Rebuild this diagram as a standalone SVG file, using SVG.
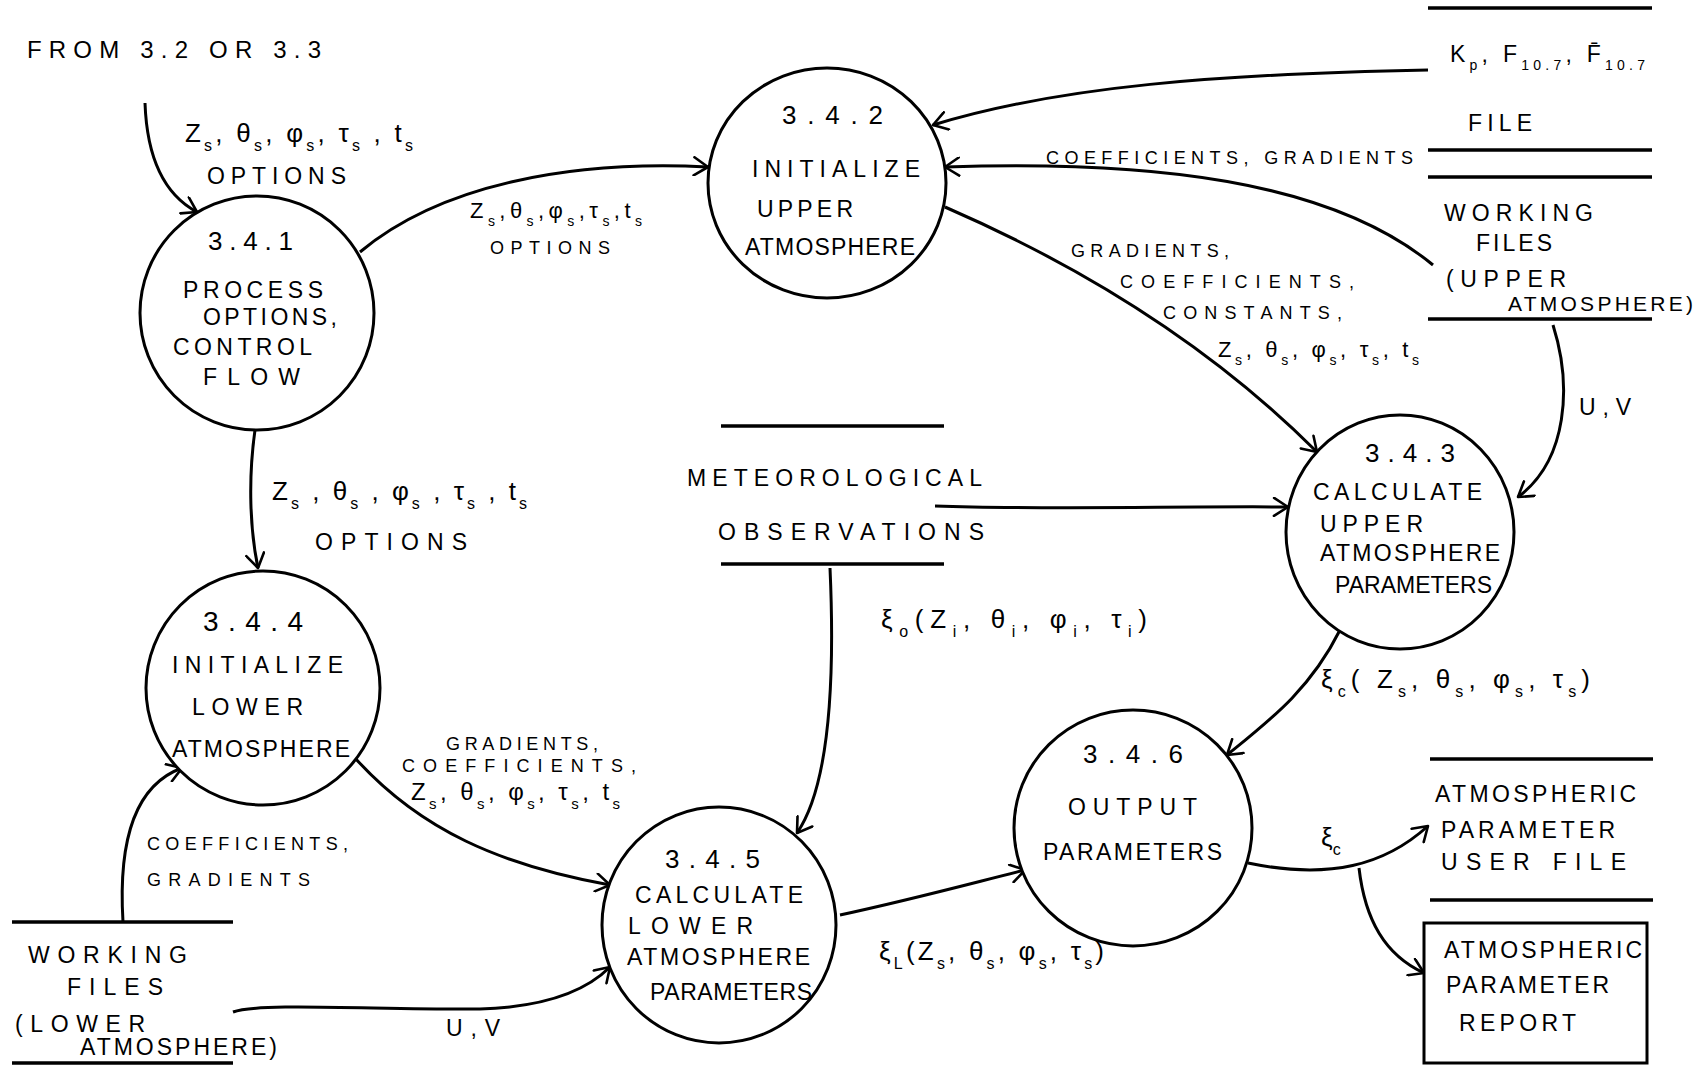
<svg xmlns="http://www.w3.org/2000/svg" width="1705" height="1066" viewBox="0 0 1705 1066">
  <defs>
    <style>
      .bubble { fill: #fff; stroke: #000; stroke-width: 3; }
      .store { stroke: #000; stroke-width: 3.5; fill: none; }
      .flow { fill: none; stroke: #000; stroke-width: 3; marker-end: url(#arrow); }
      text { font-family: "Liberation Sans", Arial, sans-serif; fill: #000; font-size: 23px; }
      .num { font-size: 26px; }
      .big { font-size: 24px; }
      .sm { font-size: 18px; }
      .sym { font-size: 26px; }
      .sub { font-size: 16px; }
    </style>
    <marker id="arrow" viewBox="0 0 20 20" refX="17" refY="10" markerWidth="20" markerHeight="20" markerUnits="userSpaceOnUse" orient="auto">
      <path d="M3,1 L17,10 L3,19" fill="none" stroke="#000" stroke-width="2.6" stroke-linecap="round" stroke-linejoin="round"/>
    </marker>
  </defs>

  <rect width="1705" height="1066" fill="#fff"/>

  <!-- data flows -->
  <g id="connectors">
    <path class="flow" d="M145,103 C147,160 165,195 197,212"/>
    <path class="flow" d="M360,252 C440,185 570,160 708,167"/>
    <path class="flow" d="M1428,70 C1220,74 1060,86 933,125"/>
    <path class="flow" d="M1433,265 C1330,180 1150,160 945,167"/>
    <path class="flow" d="M945,207 C1090,270 1215,350 1317,452"/>
    <path class="flow" d="M1553,325 C1572,385 1568,460 1518,497"/>
    <path class="flow" d="M935,506 C1050,510 1180,506 1288,507"/>
    <path class="flow" d="M255,430 C248,480 250,530 258,568"/>
    <path class="flow" d="M123,922 C118,840 135,785 182,768"/>
    <path class="flow" d="M355,758 C420,830 500,865 610,885"/>
    <path class="flow" d="M233,1012 C260,1002 380,1010 480,1009 C545,1007 585,992 610,967"/>
    <path class="flow" d="M830,568 C835,680 830,785 797,833"/>
    <path class="flow" d="M1340,630 C1310,690 1270,720 1227,755"/>
    <path class="flow" d="M840,915 C910,900 965,885 1025,870"/>
    <path class="flow" d="M1248,863 C1330,880 1385,865 1428,826"/>
    <path class="flow" d="M1359,868 C1365,920 1385,955 1424,973"/>
  </g>

  <!-- flow labels -->
  <g id="flow-labels">
    <text class="big" x="27" y="58" textLength="294" lengthAdjust="spacing">FROM 3.2 OR 3.3</text>

    <text class="sym" x="185" y="142" textLength="228" lengthAdjust="spacing">Z<tspan class="sub" baseline-shift="sub">s</tspan>, θ<tspan class="sub" baseline-shift="sub">s</tspan>, φ<tspan class="sub" baseline-shift="sub">s</tspan>, τ<tspan class="sub" baseline-shift="sub">s</tspan> , t<tspan class="sub" baseline-shift="sub">s</tspan></text>
    <text x="207" y="184" textLength="139" lengthAdjust="spacing">OPTIONS</text>

    <text class="sym" x="470" y="218" style="font-size:22px" textLength="172" lengthAdjust="spacing">Z<tspan font-size="14" baseline-shift="sub">s</tspan>,θ<tspan font-size="14" baseline-shift="sub">s</tspan>,φ<tspan font-size="14" baseline-shift="sub">s</tspan>,τ<tspan font-size="14" baseline-shift="sub">s</tspan>,t<tspan font-size="14" baseline-shift="sub">s</tspan></text>
    <text class="sm" x="490" y="254" textLength="120" lengthAdjust="spacing">OPTIONS</text>

    <text class="sm" x="1046" y="164" textLength="367" lengthAdjust="spacing">COEFFICIENTS, GRADIENTS</text>

    <text class="sm" x="1071" y="257" textLength="158" lengthAdjust="spacing">GRADIENTS,</text>
    <text class="sm" x="1120" y="288" textLength="234" lengthAdjust="spacing">COEFFICIENTS,</text>
    <text class="sm" x="1163" y="319" textLength="179" lengthAdjust="spacing">CONSTANTS,</text>
    <text class="sym" x="1218" y="357" style="font-size:22px" textLength="201" lengthAdjust="spacing">Z<tspan font-size="14" baseline-shift="sub">s</tspan>, θ<tspan font-size="14" baseline-shift="sub">s</tspan>, φ<tspan font-size="14" baseline-shift="sub">s</tspan>, τ<tspan font-size="14" baseline-shift="sub">s</tspan>, t<tspan font-size="14" baseline-shift="sub">s</tspan></text>

    <text x="1579" y="415" textLength="52" lengthAdjust="spacing">U,V</text>

    <text class="sym" x="272" y="500" textLength="255" lengthAdjust="spacing">Z<tspan class="sub" baseline-shift="sub">s</tspan> , θ<tspan class="sub" baseline-shift="sub">s</tspan> , φ<tspan class="sub" baseline-shift="sub">s</tspan> , τ<tspan class="sub" baseline-shift="sub">s</tspan> , t<tspan class="sub" baseline-shift="sub">s</tspan></text>
    <text x="315" y="550" textLength="152" lengthAdjust="spacing">OPTIONS</text>

    <text class="sym" x="881" y="628" textLength="266" lengthAdjust="spacing">ξ<tspan class="sub" baseline-shift="sub">o</tspan>(Z<tspan class="sub" baseline-shift="sub">i</tspan>, θ<tspan class="sub" baseline-shift="sub">i</tspan>, φ<tspan class="sub" baseline-shift="sub">i</tspan>, τ<tspan class="sub" baseline-shift="sub">i</tspan>)</text>

    <text class="sym" x="1321" y="688" textLength="269" lengthAdjust="spacing">ξ<tspan class="sub" baseline-shift="sub">c</tspan>( Z<tspan class="sub" baseline-shift="sub">s</tspan>, θ<tspan class="sub" baseline-shift="sub">s</tspan>, φ<tspan class="sub" baseline-shift="sub">s</tspan>, τ<tspan class="sub" baseline-shift="sub">s</tspan>)</text>

    <text class="sm" x="446" y="750" textLength="152" lengthAdjust="spacing">GRADIENTS,</text>
    <text class="sm" x="402" y="772" textLength="234" lengthAdjust="spacing">COEFFICIENTS,</text>
    <text class="sym" x="411" y="800" style="font-size:24px" textLength="209" lengthAdjust="spacing">Z<tspan font-size="15" baseline-shift="sub">s</tspan>, θ<tspan font-size="15" baseline-shift="sub">s</tspan>, φ<tspan font-size="15" baseline-shift="sub">s</tspan>, τ<tspan font-size="15" baseline-shift="sub">s</tspan>, t<tspan font-size="15" baseline-shift="sub">s</tspan></text>

    <text class="sm" x="147" y="850" textLength="201" lengthAdjust="spacing">COEFFICIENTS,</text>
    <text class="sm" x="147" y="886" textLength="163" lengthAdjust="spacing">GRADIENTS</text>

    <text x="446" y="1036" textLength="54" lengthAdjust="spacing">U,V</text>

    <text class="sym" x="879" y="960" textLength="225" lengthAdjust="spacing">ξ<tspan class="sub" baseline-shift="sub">L</tspan>(Z<tspan class="sub" baseline-shift="sub">s</tspan>, θ<tspan class="sub" baseline-shift="sub">s</tspan>, φ<tspan class="sub" baseline-shift="sub">s</tspan>, τ<tspan class="sub" baseline-shift="sub">s</tspan>)</text>

    <text class="sym" x="1321" y="846">ξ<tspan class="sub" baseline-shift="sub">c</tspan></text>
  </g>

  <!-- processes -->
  <g id="p341">
    <ellipse class="bubble" cx="257" cy="313" rx="117" ry="117"/>
    <text class="num" x="208" y="250" textLength="85" lengthAdjust="spacing">3.4.1</text>
    <text x="183" y="298" textLength="140" lengthAdjust="spacing">PROCESS</text>
    <text x="203" y="325" textLength="134" lengthAdjust="spacing">OPTIONS,</text>
    <text x="173" y="355" textLength="139" lengthAdjust="spacing">CONTROL</text>
    <text x="203" y="385" textLength="97" lengthAdjust="spacing">FLOW</text>
  </g>

  <g id="p342">
    <ellipse class="bubble" cx="827" cy="183" rx="119" ry="115"/>
    <text class="num" x="782" y="124" textLength="101" lengthAdjust="spacing">3.4.2</text>
    <text x="752" y="177" textLength="168" lengthAdjust="spacing">INITIALIZE</text>
    <text x="757" y="217" textLength="96" lengthAdjust="spacing">UPPER</text>
    <text x="745" y="255" textLength="170" lengthAdjust="spacing">ATMOSPHERE</text>
  </g>

  <g id="p343">
    <ellipse class="bubble" cx="1400" cy="532" rx="114" ry="117"/>
    <text class="num" x="1365" y="462" textLength="90" lengthAdjust="spacing">3.4.3</text>
    <text x="1313" y="500" textLength="169" lengthAdjust="spacing">CALCULATE</text>
    <text x="1320" y="532" textLength="103" lengthAdjust="spacing">UPPER</text>
    <text x="1320" y="561" textLength="180" lengthAdjust="spacing">ATMOSPHERE</text>
    <text x="1335" y="593" textLength="157" lengthAdjust="spacing">PARAMETERS</text>
  </g>

  <g id="p344">
    <ellipse class="bubble" cx="263" cy="688" rx="117" ry="117"/>
    <text class="num" x="203" y="631" style="font-size:28px" textLength="100" lengthAdjust="spacing">3.4.4</text>
    <text x="172" y="673" textLength="171" lengthAdjust="spacing">INITIALIZE</text>
    <text x="192" y="715" textLength="111" lengthAdjust="spacing">LOWER</text>
    <text x="172" y="757" textLength="178" lengthAdjust="spacing">ATMOSPHERE</text>
  </g>

  <g id="p345">
    <ellipse class="bubble" cx="719" cy="925" rx="117" ry="118"/>
    <text class="num" x="665" y="868" textLength="95" lengthAdjust="spacing">3.4.5</text>
    <text x="635" y="903" textLength="168" lengthAdjust="spacing">CALCULATE</text>
    <text x="628" y="934" textLength="125" lengthAdjust="spacing">LOWER</text>
    <text x="627" y="965" textLength="183" lengthAdjust="spacing">ATMOSPHERE</text>
    <text x="650" y="1000" textLength="162" lengthAdjust="spacing">PARAMETERS</text>
  </g>

  <g id="p346">
    <ellipse class="bubble" cx="1133" cy="828" rx="119" ry="118"/>
    <text class="num" x="1083" y="763" textLength="100" lengthAdjust="spacing">3.4.6</text>
    <text x="1068" y="815" textLength="129" lengthAdjust="spacing">OUTPUT</text>
    <text x="1043" y="860" textLength="179" lengthAdjust="spacing">PARAMETERS</text>
  </g>

  <!-- data stores -->
  <g id="store-kp-file">
    <line class="store" x1="1428" y1="8" x2="1652" y2="8"/>
    <line class="store" x1="1428" y1="150" x2="1652" y2="150"/>
    <text x="1450" y="62" textLength="195" lengthAdjust="spacing">K<tspan font-size="14" baseline-shift="sub">p</tspan>, F<tspan font-size="14" baseline-shift="sub">10.7</tspan>, F̄<tspan font-size="14" baseline-shift="sub">10.7</tspan></text>
    <text x="1468" y="131" textLength="64" lengthAdjust="spacing">FILE</text>
  </g>

  <g id="store-working-upper">
    <line class="store" x1="1428" y1="177" x2="1652" y2="177"/>
    <line class="store" x1="1428" y1="319" x2="1652" y2="319"/>
    <text x="1444" y="221" textLength="149" lengthAdjust="spacing">WORKING</text>
    <text x="1476" y="251" textLength="76" lengthAdjust="spacing">FILES</text>
    <text x="1446" y="287" textLength="120" lengthAdjust="spacing">(UPPER</text>
    <text x="1508" y="311" style="font-size:21px" textLength="185" lengthAdjust="spacing">ATMOSPHERE)</text>
  </g>

  <g id="store-meteorological">
    <line class="store" x1="721" y1="426" x2="944" y2="426"/>
    <line class="store" x1="721" y1="564" x2="944" y2="564"/>
    <text x="687" y="486" textLength="295" lengthAdjust="spacing">METEOROLOGICAL</text>
    <text x="718" y="540" textLength="266" lengthAdjust="spacing">OBSERVATIONS</text>
  </g>

  <g id="store-working-lower">
    <line class="store" x1="12" y1="922" x2="233" y2="922"/>
    <line class="store" x1="12" y1="1063" x2="233" y2="1063"/>
    <text x="28" y="963" textLength="159" lengthAdjust="spacing">WORKING</text>
    <text x="67" y="995" textLength="96" lengthAdjust="spacing">FILES</text>
    <text x="15" y="1032" textLength="130" lengthAdjust="spacing">(LOWER</text>
    <text x="80" y="1055" textLength="197" lengthAdjust="spacing">ATMOSPHERE)</text>
  </g>

  <g id="store-user-file">
    <line class="store" x1="1430" y1="759" x2="1653" y2="759"/>
    <line class="store" x1="1430" y1="900" x2="1653" y2="900"/>
    <text x="1435" y="802" textLength="201" lengthAdjust="spacing">ATMOSPHERIC</text>
    <text x="1441" y="838" textLength="174" lengthAdjust="spacing">PARAMETER</text>
    <text x="1441" y="870" textLength="185" lengthAdjust="spacing">USER FILE</text>
  </g>

  <g id="report">
    <rect x="1424" y="923" width="223" height="140" fill="#fff" stroke="#000" stroke-width="3"/>
    <text x="1444" y="958" textLength="198" lengthAdjust="spacing">ATMOSPHERIC</text>
    <text x="1446" y="993" textLength="163" lengthAdjust="spacing">PARAMETER</text>
    <text x="1459" y="1031" textLength="117" lengthAdjust="spacing">REPORT</text>
  </g>
</svg>
